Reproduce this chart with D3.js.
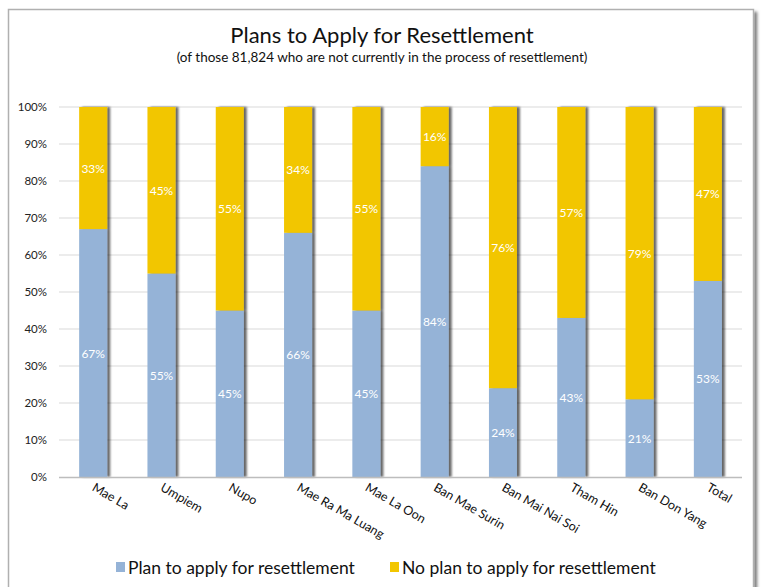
<!DOCTYPE html>
<html>
<head>
<meta charset="utf-8">
<script src="https://cdn.jsdelivr.net/npm/d3@7"></script>
<style>
  html, body { margin: 0; padding: 0; background: #fff; }
  svg { display: block; }
  text { font-family: "Lato", "Open Sans", sans-serif; }
</style>
</head>
<body>
<svg id="chart" width="763" height="587"></svg>
<script>
// Camp names along the x axis
const categories = ["Mae La", "Umpiem", "Nupo", "Mae Ra Ma Luang", "Mae La Oon",
  "Ban Mae Surin", "Ban Mai Nai Soi", "Tham Hin", "Ban Don Yang", "Total"];
// Share (%) planning to apply for resettlement
const planValues = [67, 55, 45, 66, 45, 84, 24, 43, 21, 53];
// Share (%) with no plan to apply
const noPlanValues = [33, 45, 55, 34, 55, 16, 76, 57, 79, 47];
const seriesNames = ["Plan to apply for resettlement", "No plan to apply for resettlement"];
const yTicks = [0, 10, 20, 30, 40, 50, 60, 70, 80, 90, 100];

const colors = ["#95b3d7", "#f2c600"];
const svg = d3.select("#chart");

// drop shadows used by the frame and bars
const defs = svg.append("defs");
const fBar = defs.append("filter").attr("id", "barShadow")
  .attr("x", "-20%").attr("y", "-5%").attr("width", "160%").attr("height", "110%");
fBar.append("feDropShadow").attr("dx", 3).attr("dy", 0).attr("stdDeviation", 1.3)
  .attr("flood-color", "#000").attr("flood-opacity", 0.6);
const fFrame = defs.append("filter").attr("id", "frameShadow")
  .attr("x", "-5%").attr("y", "-5%").attr("width", "110%").attr("height", "110%");
fFrame.append("feDropShadow").attr("dx", 3).attr("dy", 3).attr("stdDeviation", 1.5)
  .attr("flood-color", "#000").attr("flood-opacity", 0.5);

// outer frame
svg.append("rect")
  .attr("x", 8.5).attr("y", 9.5).attr("width", 745).attr("height", 600)
  .attr("fill", "#fff").attr("stroke", "#b0b0b0").attr("stroke-width", 1.5)
  .attr("filter", "url(#frameShadow)");

// titles
svg.append("text").attr("x", 382).attr("y", 43).attr("text-anchor", "middle")
  .attr("font-size", 22).attr("fill", "#111")
  .text("Plans to Apply for Resettlement");
svg.append("text").attr("x", 382).attr("y", 62).attr("text-anchor", "middle")
  .attr("font-size", 13.5).attr("fill", "#111")
  .text("(of those 81,824 who are not currently in the process of resettlement)");

const x = d3.scaleBand().domain(categories).range([59, 742]).paddingInner(0.59).paddingOuter(0.295);
const y = d3.scaleLinear().domain([0, 100]).range([477, 107]);

// gridlines
svg.append("g").selectAll("line").data(yTicks.filter(d => d > 0)).join("line")
  .attr("x1", 59).attr("x2", 742)
  .attr("y1", d => y(d)).attr("y2", d => y(d))
  .attr("stroke", "#d9d9d9").attr("stroke-width", 1);

// y axis labels
const yAxis = d3.axisLeft(y).tickValues(yTicks).tickFormat(d => d + "%").tickSize(0).tickPadding(12);
const yg = svg.append("g").attr("transform", "translate(59,0)").call(yAxis);
yg.select(".domain").remove();
yg.selectAll("text").attr("font-size", 11.5).attr("fill", "#222")
  .attr("font-family", "Lato, 'Open Sans', sans-serif");

// stacked series
const rows = categories.map((c, i) => ({ cat: c, plan: planValues[i], noplan: noPlanValues[i] }));
const stack = d3.stack().keys(["plan", "noplan"])(rows);

// one shadowed group per bar
const bars = svg.append("g").selectAll("g.bar").data(rows).join("g").attr("class", "bar")
  .attr("filter", "url(#barShadow)");
bars.each(function (d, i) {
  const g = d3.select(this);
  stack.forEach((s, k) => {
    const seg = s[i];
    g.append("rect")
      .attr("x", x(d.cat)).attr("width", x.bandwidth())
      .attr("y", y(seg[1])).attr("height", y(seg[0]) - y(seg[1]))
      .attr("fill", colors[k]);
  });
});

// value labels centred in each segment
stack.forEach((s) => {
  svg.append("g").selectAll("text").data(s).join("text")
    .attr("x", d => x(d.data.cat) + x.bandwidth() / 2)
    .attr("y", d => (y(d[0]) + y(d[1])) / 2 + 4.5)
    .attr("text-anchor", "middle")
    .attr("font-size", 12).attr("fill", "#fff")
    .text(d => (d[1] - d[0]) + "%");
});

// x axis baseline
svg.append("line").attr("x1", 59).attr("x2", 742).attr("y1", 477.5).attr("y2", 477.5)
  .attr("stroke", "#bdbdbd").attr("stroke-width", 1.5);

// rotated category labels
svg.append("g").selectAll("text").data(categories).join("text")
  .attr("transform", d => `translate(${x(d) + x.bandwidth() / 2 - 2},${490}) rotate(30)`)
  .attr("text-anchor", "start")
  .attr("font-size", 12.5).attr("fill", "#111")
  .text(d => d);

// legend
const legend = [
  { name: seriesNames[0], color: colors[0], x: 116 },
  { name: seriesNames[1], color: colors[1], x: 390 }
];
const lg = svg.append("g").selectAll("g").data(legend).join("g")
  .attr("transform", d => `translate(${d.x},0)`);
lg.append("rect").attr("x", 0).attr("y", 562).attr("width", 9).attr("height", 10)
  .attr("fill", d => d.color);
lg.append("text").attr("x", 12).attr("y", 574).attr("font-size", 17.5).attr("fill", "#111")
  .text(d => d.name);
</script>
</body>
</html>
